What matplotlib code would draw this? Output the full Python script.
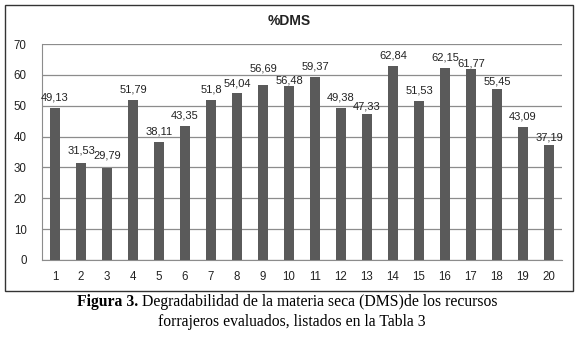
import matplotlib
matplotlib.use("Agg")
import matplotlib.pyplot as plt
from matplotlib.patches import Rectangle

categories = [str(i) for i in range(1, 21)]
values = [49.13, 31.53, 29.79, 51.79, 38.11, 43.35, 51.8, 54.04, 56.69, 56.48,
          59.37, 49.38, 47.33, 62.84, 51.53, 62.15, 61.77, 55.45, 43.09, 37.19]
labels = ["49,13", "31,53", "29,79", "51,79", "38,11", "43,35", "51,8", "54,04", "56,69", "56,48",
          "59,37", "49,38", "47,33", "62,84", "51,53", "62,15", "61,77", "55,45", "43,09", "37,19"]
yticks = [0, 10, 20, 30, 40, 50, 60, 70]
# vertical gap (pixels) between bar top and label centre, as placed in the original
label_gap = [10.5, 12, 13, 10.5, 10.5, 10.5, 10.5, 9.5, 17, 5.5,
             10.5, 10.5, 7, 10.5, 10, 11, 6, 7, 10.5, 8]

W, H = 578, 343
fig = plt.figure(figsize=(W / 100, H / 100), dpi=100)
fig.patch.set_facecolor("white")
plt.rcParams['font.family'] = ['Liberation Sans', 'DejaVu Sans']

# outer chart border
fig.patches.append(Rectangle((5 / W, 1 - 291 / H), 568 / W, 286 / H, transform=fig.transFigure,
                             fill=False, edgecolor="#333333", linewidth=1.0))

ax = fig.add_axes([42 / W, 1 - 260 / H, 520 / W, 216 / H])
x = list(range(len(categories)))
ax.bar(x, values, width=0.38, color="#5a5a5a", zorder=3)
for xi, v, lab, g in zip(x, values, labels, label_gap):
    ax.annotate(lab, (xi, v), xytext=(0, g), textcoords="offset pixels",
                ha="center", va="center", fontsize=8, color="#222222", zorder=4)

ax.set_xlim(-0.5, len(categories) - 0.5)
ax.set_ylim(0, 70)
ax.set_yticks(yticks)
ax.set_xticks(x)
ax.set_xticklabels(categories)
ax.tick_params(axis="both", length=0, labelsize=8.3, colors="#222222")
ax.tick_params(axis="x", pad=8)
ax.tick_params(axis="y", pad=11)
ax.yaxis.grid(True, color="#8c8c8c", linewidth=0.9, zorder=0)
for s in ["top", "right"]:
    ax.spines[s].set_visible(False)
ax.spines["left"].set_color("#8c8c8c")
ax.spines["bottom"].set_color("#8c8c8c")

fig.text(289 / W, 1 - 21 / H, "%DMS", ha="center", va="center", fontsize=10, fontweight="bold",
         color="#222222")

serif = ['Liberation Serif', 'DejaVu Serif']
t1 = fig.text(77 / W, 1 - 302 / H, "Figura 3.", ha="left", va="center", fontsize=11.3,
              fontweight="bold", family=serif)
fig.canvas.draw()
bb = t1.get_window_extent()
fig.text(bb.x1 / W + 4 / W, 1 - 302 / H,
         "Degradabilidad de la materia seca (DMS)de los recursos",
         ha="left", va="center", fontsize=11.3, family=serif)
fig.text(292 / W, 1 - 322 / H, "forrajeros evaluados, listados en la Tabla 3", ha="center",
         va="center", fontsize=11.3, family=serif)

fig.savefig("out.png", dpi=100, facecolor="white")
